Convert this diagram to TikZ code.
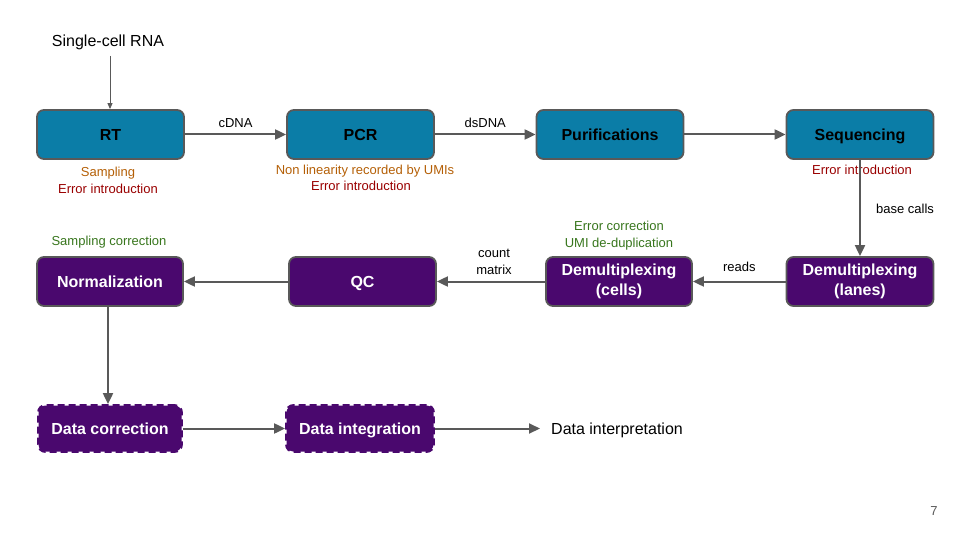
\documentclass[tikz,border=0pt]{standalone}
\usepackage{fontspec}
\setmainfont{Liberation Sans}
\usepackage{tikz}
\usetikzlibrary{positioning,arrows.meta}
\tikzstyle{slide} = [x = 1pt, y = -1pt, every node/.style={font=\fontsize{16}{19}\selectfont}]
\definecolor{boxBlue}{RGB}{11,125,167}
\definecolor{boxPurple}{RGB}{74,8,110}
\definecolor{lineGray}{RGB}{89,89,89}
\definecolor{noteOrange}{RGB}{180,95,6}
\definecolor{noteRed}{RGB}{153,0,0}
\definecolor{noteGreen}{RGB}{56,118,29}
\tikzstyle{stageBox} = [draw=lineGray, line width=1.8pt, rounded corners=7pt, minimum height=49pt, minimum width=147pt, inner sep=0pt, align=center, text=white, font=\fontsize{16}{20}\selectfont\bfseries]
\tikzstyle{oneLine} = [text height=11.5pt, text depth=0.3pt]
\tikzstyle{blueBox} = [stageBox, oneLine, fill=boxBlue, text=black]
\tikzstyle{purpleBox} = [stageBox, fill=boxPurple]
\tikzstyle{dashedBox} = [stageBox, oneLine, draw=boxPurple, fill=boxPurple, line width=2.8pt, dash pattern=on 7pt off 4pt, minimum height=46pt, minimum width=143pt]
\tikzstyle{flowArrow} = [draw=lineGray, line width=2pt, -{Triangle[length=11pt, width=10pt]}]
\tikzstyle{noteText} = [font=\fontsize{13}{17}\selectfont, align=center, inner sep=0pt]
\tikzstyle{oneNote} = [noteText, text height=9.3pt, text depth=0.2pt]
\tikzstyle{edgeText} = [noteText, text=black]
\begin{document}
\begin{tikzpicture}[slide]
  \useasboundingbox (0,0) rectangle (960,540);
  % first row
  \node [blueBox] (rt) at (110.5,134.5) {RT};
  \node [blueBox] (pcr) at (360.5,134.5) {PCR};
  \node [blueBox] (purif) at (610,134.5) {Purifications};
  \node [blueBox] (seq) at (860,134.5) {Sequencing};
  % second row
  \node [purpleBox, oneLine, minimum width=146pt] (norm) at (110,281.5) {Normalization};
  \node [purpleBox, oneLine] (qc) at (362.5,281.5) {QC};
  \node [purpleBox, minimum width=146pt] (cells) at (619,281.5) {Demultiplexing\\(cells)};
  \node [purpleBox] (lanes) at (860,281.5) {Demultiplexing\\(lanes)};
  % third row
  \node [dashedBox] (corr) at (110,428.5) {Data correction};
  \node [dashedBox, minimum width=147pt] (integ) at (360,428.5) {Data integration};
  \coordinate (interp) at (540,428.5);
  \node [anchor=west, inner sep=0pt, oneLine] (interpText) at (551,428.5) {Data interpretation};

  % notes
  \node [oneNote, text=noteOrange] (rtNoteA) at (108,172) {Sampling};
  \node [oneNote, text=noteRed] (rtNoteB) at (108,189) {Error introduction};
  \node [oneNote, text=noteOrange] (pcrNoteA) at (365,170) {Non linearity recorded by UMIs};
  \node [oneNote, text=noteRed] (pcrNoteB) at (361,186) {Error introduction};
  \node [oneNote, text=noteRed] (seqNote) at (862,170) {Error introduction};
  \node [noteText, text=noteGreen] (cellsNote) at (619,236) {Error correction\\UMI de-duplication};
  \node [oneNote, text=noteGreen] (normNote) at (109,241) {Sampling correction};

  % input
  \node [oneLine, inner sep=0pt] (rna) at (108,41) {Single-cell RNA};
  \coordinate (rnaEnd) at (110,56);
  \draw [draw=lineGray, line width=0.9pt, -{Triangle[length=6pt, width=5pt]}] (rnaEnd) -- (rt.north -| rnaEnd);

  % connectors
  \draw [flowArrow] (rt) -- (pcr) node [edgeText, oneNote, midway, above=6pt] {cDNA};
  \draw [flowArrow] (pcr) -- (purif) node [edgeText, oneNote, midway, above=6pt] {dsDNA};
  \draw [flowArrow] (purif) -- (seq);
  \draw [flowArrow] (seq) -- (lanes);
  \node [edgeText, oneNote] (calls) at (905,209) {base calls};
  \draw [flowArrow] (lanes) -- (cells) node [edgeText, oneNote, midway, above=9pt] {reads};
  \draw [flowArrow] (cells) -- (qc) node [edgeText, midway, above=6pt, xshift=3pt] {count\\matrix};
  \draw [flowArrow] (qc) -- (norm);
  \draw [flowArrow] ([xshift=-2pt]norm.south -| rnaEnd) -- ([xshift=-2pt]corr.north -| rnaEnd);
  \draw [flowArrow] (corr) -- (integ);
  \draw [flowArrow] (integ) -- (interp);

  % page number
  \node [oneNote, text=lineGray] (page) at (934,511) {7};
\end{tikzpicture}
\end{document}
